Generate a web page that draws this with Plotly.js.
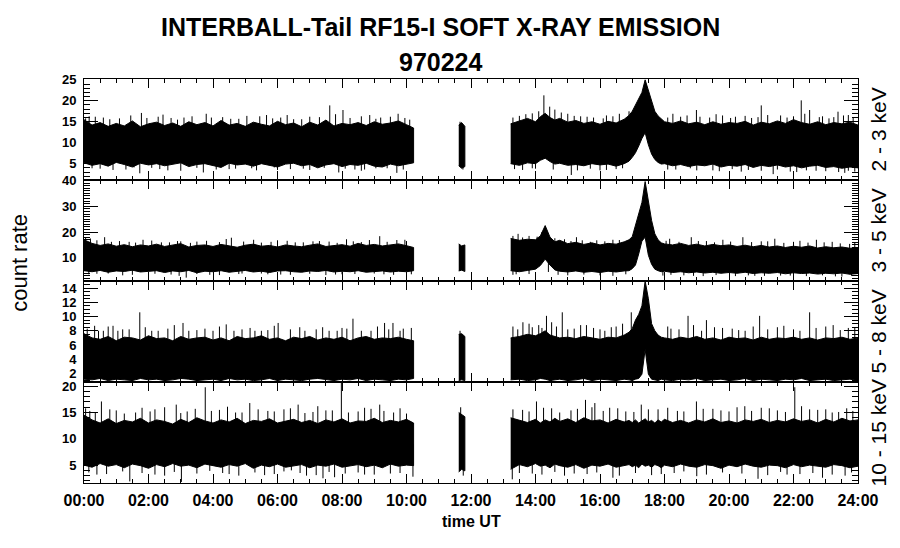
<!DOCTYPE html>
<html><head><meta charset="utf-8">
<script src="https://cdn.plot.ly/plotly-3.0.1.min.js"></script>
<style>body{margin:0;background:#fff}#chart{width:900px;height:548px}</style>
</head><body><div id="chart"></div>
<script>
// ---------- DATA (hours UT, count rate envelopes) ----------
const chartTitle = 'INTERBALL-Tail RF15-I SOFT X-RAY EMISSION';
const chartDate = '970224';
const yTitle = 'count rate';
const xTitle = 'time UT';
const bandLabels = ['2 - 3 keV', '3 - 5 keV', '5 - 8 keV', '10 - 15 keV'];
const xTickVals = [0,2,4,6,8,10,12,14,16,18,20,22,24];
const xTickText = ['00:00','02:00','04:00','06:00','08:00','10:00','12:00','14:00','16:00','18:00','20:00','22:00','24:00'];

// segment times
const tA = [0,0.25,0.5,0.75,1,1.25,1.5,1.75,2,2.25,
  2.5,2.75,3,3.25,3.5,3.75,4,4.25,4.5,4.75,
  5,5.25,5.5,5.75,6,6.25,6.5,6.75,7,7.25,
  7.5,7.75,8,8.25,8.5,8.75,9,9.25,9.5,9.75,
  10,10.22];
const tB = [11.62,11.71,11.81];
const tC = [13.23,13.5,13.75,14.0,14.15,14.3,14.45,14.6,14.75,15.0,
  15.25,15.5,15.75,16.0,16.25,16.5,16.75,16.9,17.0,17.1,
  17.2,17.3,17.4,17.5,17.6,17.7,17.8,17.9,18.0,18.25,
  18.5,18.75,19.0,19.25,19.5,19.75,20.0,20.25,20.5,20.75,
  21.0,21.25,21.5,21.75,22.0,22.25,22.5,22.75,23.0,23.25,
  23.5,23.75,24.0];

// ---- 2 - 3 keV ----
const up1A = [15.5,14.2,14.8,13.9,14.6,14.0,15.2,13.8,14.5,14.9,
  14.1,14.7,13.9,15.0,14.3,14.8,14.0,15.3,14.2,14.6,
  13.9,14.9,14.4,14.0,15.1,14.3,14.7,13.8,14.9,14.2,
  15.4,14.0,14.6,14.3,14.8,14.1,15.0,14.4,14.7,15.2,
  14.3,13.5];
const lo1A = [5.2,4.6,5.0,4.4,5.3,4.8,4.2,5.1,4.7,5.0,
  4.5,4.9,5.2,4.3,4.8,5.0,4.6,4.1,5.1,4.7,
  4.9,4.4,5.0,4.6,4.2,4.9,5.1,4.5,4.8,4.0,
  4.7,5.0,4.3,4.8,4.6,5.1,4.4,4.2,4.9,4.5,
  4.8,5.2];
const up1B = [14.2,14.8,13.9];
const lo1B = [4.5,3.9,4.3];
const up1C = [14.5,15.2,15.8,15.0,16.2,17.0,16.0,15.4,15.8,14.9,
  15.3,14.6,15.0,14.4,15.1,14.7,15.6,16.5,17.5,19.0,
  20.5,22.0,25.0,22.5,19.5,17.5,16.4,15.6,15.0,14.6,
  15.2,14.5,14.9,14.3,15.0,14.4,14.8,14.6,15.1,14.2,
  14.9,14.5,15.2,14.6,15.5,14.8,14.4,15.0,14.3,14.8,
  14.5,14.9,14.2];
const lo1C = [5.0,4.6,5.2,5.0,5.8,6.3,5.5,4.9,5.1,4.6,
  4.8,4.5,5.0,4.7,4.9,4.4,5.0,5.6,6.5,7.6,
  9.2,11.0,12.4,9.5,7.3,6.0,5.3,4.9,5.0,4.5,
  4.8,4.3,4.7,4.5,4.9,4.2,4.6,4.4,4.8,4.1,
  4.6,4.3,4.7,4.2,4.5,4.0,4.4,4.6,4.1,4.3,
  3.9,4.2,4.0];
const spk1T = [0.16,1.78,3.79,5.45,5.66,7.62,8.03,8.86,9.74,0.6,1.1,2.3,2.7,3.1,4.3,4.8,6.1,6.5,7.0,9.2,9.95,
  0.05,0.35,0.8,1.45,1.95,2.45,2.9,3.35,3.95,4.55,5.05,5.85,6.3,6.75,7.3,7.8,8.25,8.6,9.05,9.5,10.1,
  1.73,3.70,7.90,9.70,8.70,0.5,1.3,2.1,2.6,4.5,5.2,6.0,6.8,8.4,9.4,
  0.25,0.9,1.55,2.35,3.0,3.5,4.1,4.7,5.35,5.9,6.4,7.0,7.45,8.1,8.6,9.05,9.9,
  14.26,14.44,15.0,16.6,18.26,18.99,21.0,22.24,22.5,23.38,13.5,13.9,14.8,15.4,15.8,16.2,16.9,18.5,19.4,19.8,20.2,20.7,21.6,22.0,22.8,23.1,23.7,
  13.3,13.7,14.1,14.6,15.2,15.6,16.1,16.4,18.1,18.7,19.1,19.6,20.05,20.5,20.9,21.2,21.8,22.35,22.9,23.25,23.55,23.85,
  15.11,20.38,21.37,23.59,13.6,14.0,16.0,16.5,18.1,18.8,19.5,22.1,22.7,23.9,
  13.35,13.9,14.55,15.3,15.7,16.2,16.7,18.35,19.0,19.7,20.1,20.6,21.0,21.5,21.9,22.4,23.0,23.4,23.7,
  11.66,11.75];
const spk1V = [16.3,17.1,16.9,16.3,16.6,18.9,17.8,16.6,16.9,16.0,15.8,16.2,15.9,16.0,16.1,15.7,16.0,15.6,16.2,16.0,15.9,
  15.8,16.2,15.6,16.5,15.9,16.7,15.5,16.3,16.0,15.7,16.4,15.8,16.6,15.6,16.1,16.8,15.9,16.3,15.7,16.2,15.5,
  2.7,2.9,2.9,2.8,3.6,3.8,3.6,4.0,3.4,3.7,3.9,3.5,3.8,3.6,3.9,
  3.9,3.5,4.1,3.7,3.3,4.0,3.6,3.8,3.4,4.1,3.7,3.5,4.0,3.8,3.3,3.9,3.6,
  21.3,18.6,16.9,16.9,16.9,17.8,18.9,20.1,17.8,17.4,16.4,17.0,17.2,16.3,16.0,16.5,17.5,16.2,16.0,16.5,16.2,15.9,16.5,16.3,16.1,15.8,16.6,
  16.0,16.8,17.5,17.9,16.4,16.2,15.8,16.3,16.0,16.5,16.2,16.8,15.9,16.4,16.1,16.6,16.0,16.9,16.3,16.1,16.5,15.9,
  2.3,3.1,2.5,2.8,3.5,3.8,3.4,3.7,3.6,3.9,3.4,3.0,3.3,3.1,
  3.7,3.9,3.6,3.4,3.8,3.5,3.9,3.6,3.4,3.2,3.7,3.5,3.3,3.6,3.1,3.4,3.2,3.0,3.3,
  15.0,3.6];

// ---- 3 - 5 keV ----
const up2A = [17.0,15.6,14.8,15.4,14.5,15.1,14.3,15.0,14.6,15.3,
  14.4,14.9,15.5,14.2,14.8,15.0,14.4,15.2,14.6,14.1,
  14.9,15.3,14.5,14.8,14.2,15.0,14.6,14.3,14.9,15.4,
  14.4,14.7,15.1,14.5,15.6,14.8,15.2,14.6,15.0,15.4,
  14.7,14.0];
const lo2A = [5.0,4.6,5.1,4.4,4.9,4.7,5.2,4.5,4.8,5.0,
  4.3,4.9,4.6,5.1,4.2,4.8,4.6,5.0,4.4,4.7,
  5.1,4.5,4.8,4.3,4.9,5.0,4.6,4.4,4.9,4.7,
  5.1,4.5,4.8,4.6,5.0,4.4,4.7,4.9,4.5,4.8,
  4.6,5.0];
const up2B = [15.4,14.6,15.0];
const lo2B = [4.9,5.2,4.7];
const up2C = [17.5,16.8,17.2,17.0,18.5,22.5,18.0,16.2,16.8,15.5,
  16.0,15.2,15.8,15.0,15.6,15.3,16.2,17.0,18.2,22.5,
  27.5,31.5,39.6,32.0,24.5,19.3,17.0,15.8,15.4,15.0,
  15.6,14.8,15.3,14.6,15.2,14.7,15.0,14.4,14.9,14.3,
  14.8,14.2,14.6,14.0,14.5,14.1,14.6,13.8,14.3,13.9,
  14.2,13.7,14.0];
const lo2C = [5.0,4.6,5.1,5.6,7.0,9.5,7.2,5.3,4.8,4.5,
  4.9,4.4,4.7,4.3,4.8,4.5,4.9,5.0,5.8,7.2,
  11.5,16.5,18.0,11.0,7.5,5.6,5.0,4.6,4.8,4.3,
  4.6,4.2,4.5,4.1,4.4,4.0,4.3,4.0,4.4,3.9,
  4.2,4.0,4.3,3.8,4.2,3.9,4.1,3.7,4.0,3.8,
  4.1,3.6,3.9];
const spk2T = [0.64,1.83,2.9,4.41,4.57,5.26,6.3,7.1,8.14,9.17,9.7,0.2,1.4,2.4,3.5,5.8,6.8,7.6,8.6,10.0,
  0.05,0.4,0.85,1.1,1.6,2.1,2.65,3.0,3.3,3.8,4.2,4.95,5.5,6.0,6.55,7.3,7.85,8.35,8.85,9.4,9.95,
  1.2,2.95,3.17,3.9,6.1,7.5,9.3,0.4,4.8,5.5,8.0,
  0.15,0.75,1.5,2.2,2.7,3.5,4.2,4.9,5.7,6.4,7.0,7.8,8.4,9.0,9.6,10.15,
  13.46,15.27,18.16,18.83,19.81,20.43,21.42,22.71,23.74,13.8,14.9,15.9,16.4,19.3,21.0,22.2,23.2,
  13.3,13.6,14.05,14.2,14.6,15.1,15.45,15.7,16.15,16.6,18.05,18.45,19.05,19.55,20.05,20.7,21.2,21.7,22.0,22.45,22.95,23.45,23.9,
  15.0,16.4,17.95,19.2,20.8,22.0,23.5,13.4,14.7,18.6,21.6,
  13.3,13.8,14.4,15.5,16.0,16.8,18.2,18.9,19.6,20.2,20.6,21.1,21.9,22.4,22.9,23.3,23.8];
const spk2V = [18.0,17.0,16.5,17.3,17.8,17.0,16.6,16.4,17.2,18.4,16.9,17.5,16.2,16.0,16.3,16.2,16.0,16.3,16.1,16.5,
  17.8,16.8,16.2,16.5,15.9,16.7,16.0,16.4,15.8,16.6,16.1,16.3,15.9,16.8,16.0,16.5,15.8,16.4,16.9,16.2,17.0,
  3.2,3.0,2.3,3.4,3.5,3.3,3.6,3.8,3.7,3.9,3.6,
  3.6,3.9,3.4,3.8,3.5,3.7,3.3,3.9,3.6,3.4,3.8,3.5,3.7,3.9,3.4,3.6,
  19.3,18.0,17.4,18.0,17.0,18.0,17.4,17.0,15.4,18.5,17.2,16.8,17.0,16.5,16.4,16.6,16.2,
  18.5,17.9,18.2,20.0,17.6,16.5,16.8,16.2,16.4,16.9,16.6,16.2,16.5,16.0,16.3,16.1,16.4,15.8,16.2,15.9,16.0,15.6,15.8,
  3.2,3.0,3.1,2.9,3.0,2.8,2.7,3.6,3.4,3.2,3.1,
  3.4,3.7,4.5,3.5,3.2,3.6,3.4,3.0,3.3,2.9,3.2,3.0,3.1,2.9,3.2,2.8,3.0];

// ---- 5 - 8 keV ----
const up3A = [7.6,7.0,6.8,7.2,6.6,7.1,7.0,6.7,7.3,6.9,
  7.0,6.6,7.2,6.8,7.0,7.1,6.7,7.0,6.6,7.2,
  6.9,7.0,7.3,6.8,7.0,6.6,7.1,6.9,7.2,6.7,
  7.0,6.8,7.1,6.6,7.0,7.2,6.8,7.0,6.9,7.1,
  6.8,6.6];
const lo3A = [1.2,1.1,1.3,1.0,1.2,1.1,1.0,1.3,1.1,1.2,
  1.0,1.1,1.3,1.2,1.0,1.1,1.2,1.0,1.3,1.1,
  1.2,1.0,1.1,1.3,1.0,1.2,1.1,1.0,1.2,1.3,
  1.1,1.0,1.2,1.1,1.3,1.0,1.2,1.1,1.0,1.2,
  1.1,1.3];
const up3B = [7.5,7.6,7.2];
const lo3B = [1.0,1.1,1.0];
const up3C = [7.0,7.2,7.5,7.3,7.6,8.0,7.4,7.2,7.0,7.1,
  6.9,7.2,7.0,6.8,7.1,7.0,7.4,7.8,8.3,9.5,
  10.3,11.5,15.0,12.5,9.0,8.0,7.4,7.1,7.0,6.8,
  7.1,6.9,7.2,6.8,7.0,6.7,7.1,6.9,7.0,6.7,
  7.1,6.8,7.0,6.9,7.1,6.8,7.0,6.7,7.0,6.9,
  7.1,6.8,7.0];
const lo3C = [1.1,1.2,1.0,1.1,1.3,1.2,1.0,1.1,1.2,1.0,
  1.1,1.3,1.0,1.2,1.1,1.0,1.2,1.1,1.0,1.2,
  1.3,1.9,5.4,1.9,1.2,1.1,1.0,1.2,1.1,1.0,
  1.2,1.1,1.3,1.0,1.1,1.2,1.0,1.1,1.3,1.0,
  1.2,1.1,1.0,1.2,1.1,1.3,1.0,1.1,1.2,1.0,
  1.1,1.2,1.0];
const spk3T = [0.33,1.73,3.07,6.02,6.69,8.34,9.32,0.9,4.41,9.58,0.6,1.2,2.1,2.6,3.5,4.0,4.9,5.3,5.7,7.2,7.6,8.0,8.9,9.9,
  0.1,0.45,0.75,1.05,1.4,1.9,2.3,2.8,3.25,3.75,4.2,4.65,5.15,5.5,5.9,6.4,6.85,7.4,7.85,8.15,8.6,9.1,9.45,9.8,10.15,
  10.1,
  13.61,14.34,14.83,16.97,18.73,19.3,20.95,22.5,23.23,15.58,13.9,14.1,15.2,16.0,16.5,18.2,19.8,20.3,21.5,22.0,23.7,
  13.3,13.45,13.8,14.2,14.5,14.65,15.0,15.4,15.8,16.15,16.35,16.7,18.1,18.45,18.9,19.15,19.55,20.1,20.5,20.75,21.2,21.7,22.2,22.7,23.0,23.45,23.9,
  11.66];
const spk3V = [8.7,10.6,9.1,9.1,8.5,9.7,9.1,8.7,8.9,9.1,8.0,8.2,8.0,8.3,8.1,8.0,8.2,8.0,8.1,8.2,8.0,8.4,8.0,8.3,
  8.3,8.0,8.6,8.0,8.2,8.5,8.0,8.8,8.0,8.3,8.6,8.0,8.4,8.0,8.7,8.2,8.0,8.5,8.0,8.3,8.0,8.6,8.2,8.0,8.4,
  4.0,
  9.2,10.1,10.6,10.6,10.1,9.5,10.1,10.6,8.8,8.8,8.5,8.8,8.3,8.2,8.6,8.3,8.4,8.1,8.5,8.2,8.4,
  8.6,8.2,9.0,8.4,9.2,8.6,8.2,8.8,8.4,8.0,8.5,9.0,8.6,8.2,8.8,8.0,8.5,8.3,8.0,8.6,8.2,8.7,8.0,8.4,8.6,8.1,8.5,
  8.0];

// ---- 10 - 15 keV ----
const up4A = [14.5,13.6,13.0,13.8,12.9,13.5,13.2,13.9,13.0,13.6,
  13.3,12.8,13.7,13.1,14.0,13.4,13.0,13.6,13.2,13.9,
  12.9,13.5,13.3,13.8,13.0,13.4,13.7,13.1,13.5,12.9,
  13.6,13.2,13.8,13.0,13.4,13.3,13.9,13.1,13.5,13.2,
  13.7,13.0];
const lo4A = [5.0,4.6,5.3,4.8,5.1,4.5,5.2,4.9,4.4,5.1,
  4.7,5.3,4.8,5.0,4.5,5.2,4.9,4.6,5.1,4.8,
  5.3,4.4,5.0,4.7,5.2,4.6,4.9,5.1,4.5,5.0,
  4.8,5.2,4.6,4.9,5.1,4.7,5.0,4.5,5.2,4.8,
  5.0,4.9];
const up4B = [15.0,14.6,14.2];
const lo4B = [3.7,4.2,3.9];
const up4C = [14.0,13.5,13.1,13.7,13.0,13.6,13.2,13.9,13.3,13.8,
  13.1,14.0,13.4,13.6,13.0,13.7,13.2,13.5,13.1,13.6,
  13.0,13.4,13.8,13.2,13.5,13.0,13.6,13.2,13.7,13.1,
  13.5,13.0,13.6,13.2,13.8,13.1,13.4,13.0,13.6,13.3,
  13.7,13.1,13.5,13.2,13.8,13.3,13.6,13.0,13.7,13.2,
  13.9,13.4,13.6];
const lo4C = [4.2,5.1,4.7,5.3,4.8,5.0,4.5,5.2,4.9,4.6,
  5.1,4.4,5.0,4.8,5.2,4.6,4.9,5.1,4.7,5.0,
  4.5,5.2,4.8,5.0,4.6,5.1,4.9,4.5,5.0,4.7,
  5.2,4.8,4.6,5.1,4.9,4.4,5.0,4.7,5.2,4.8,
  4.6,5.0,4.9,4.5,5.1,4.7,5.0,4.8,4.6,5.1,
  4.9,4.5,4.8];
const spk4T = [0.18,0.54,2.86,3.76,5.14,6.64,7.98,9.17,10.0,1.0,1.6,2.2,3.2,4.2,4.7,5.7,6.2,7.1,7.5,8.5,8.9,9.6,
  0.05,0.35,0.8,1.25,1.8,2.05,2.5,3.0,3.45,3.95,4.45,4.9,5.4,5.9,6.4,6.85,7.25,7.7,8.2,8.7,9.3,9.8,
  1.42,3.02,6.43,7.41,7.77,10.2,0.4,2.5,4.5,5.6,6.9,8.7,9.5,
  0.15,0.7,1.2,1.8,2.2,2.8,3.5,3.9,4.3,4.8,5.3,5.9,6.2,6.7,7.2,7.6,8.1,8.5,9.0,9.8,
  14.03,15.55,15.84,17.28,18.99,20.49,22.04,22.5,23.84,13.6,14.5,15.1,16.3,16.8,17.8,18.4,19.5,20.0,21.0,21.5,23.0,23.4,
  13.3,13.8,14.25,14.75,15.3,15.75,16.1,16.55,17.05,17.5,18.1,18.6,19.2,19.75,20.25,20.7,21.25,21.75,22.25,22.75,23.2,23.65,
  13.28,14.9,16.4,19.0,20.9,22.9,13.9,15.6,17.6,18.3,21.8,23.6,
  13.5,14.2,14.6,15.2,15.9,16.6,17.1,17.9,18.6,19.3,19.8,20.4,21.2,21.6,22.2,22.6,23.2,23.8,
  11.68,11.76];
const spk4V = [15.3,17.1,16.5,19.8,16.8,16.5,21.0,16.5,14.8,15.4,15.0,15.6,15.2,15.5,15.0,15.3,15.6,15.1,15.4,15.2,15.7,15.0,
  15.8,15.0,15.6,14.8,15.9,15.2,16.0,14.9,15.7,15.3,16.1,15.0,15.6,15.2,15.8,14.9,16.2,15.4,15.0,15.9,15.3,15.8,
  1.9,1.8,4.0,2.5,2.7,2.8,3.2,3.0,3.3,3.1,3.0,3.2,3.4,
  3.6,3.3,3.8,3.5,3.2,3.7,3.4,3.9,3.5,3.0,3.6,3.3,3.8,3.5,3.1,3.7,3.4,3.6,3.2,3.5,
  17.1,17.4,16.8,16.5,17.1,16.2,19.8,15.6,15.3,15.5,15.8,15.4,15.9,15.2,15.6,15.3,15.7,15.2,15.9,15.4,15.6,15.1,
  15.6,15.2,15.9,15.0,15.7,16.0,15.3,15.8,15.1,15.6,15.9,15.2,15.7,15.4,16.0,15.3,15.8,15.1,16.2,15.5,15.0,15.8,
  2.3,3.0,2.6,2.9,2.4,2.6,3.4,3.3,3.1,3.5,3.2,3.0,
  3.5,3.2,3.7,3.4,3.6,3.0,3.5,3.3,3.8,3.2,3.6,3.4,3.1,3.7,3.3,3.5,3.2,3.6,
  16.0,3.0];

// ---------- BUILD ----------
const panels = [
  {ups:[up1A,up1B,up1C], los:[lo1A,lo1B,lo1C], sT:spk1T, sV:spk1V, xa:'x',  ya:'y'},
  {ups:[up2A,up2B,up2C], los:[lo2A,lo2B,lo2C], sT:spk2T, sV:spk2V, xa:'x2', ya:'y2'},
  {ups:[up3A,up3B,up3C], los:[lo3A,lo3B,lo3C], sT:spk3T, sV:spk3V, xa:'x3', ya:'y3'},
  {ups:[up4A,up4B,up4C], los:[lo4A,lo4B,lo4C], sT:spk4T, sV:spk4V, xa:'x4', ya:'y4'}
];
const times = [tA, tB, tC];
const traces = [];
panels.forEach(p => {
  times.forEach((t, s) => {
    const n = Math.min(t.length, p.ups[s].length, p.los[s].length);
    const tt = t.slice(0, n), u = p.ups[s].slice(0, n), l = p.los[s].slice(0, n);
    traces.push({type:'scatter', mode:'lines', x: tt.concat(tt.slice().reverse()),
      y: u.concat(l.slice().reverse()), fill:'toself', fillcolor:'#000',
      line:{color:'#000', width:1}, xaxis:p.xa, yaxis:p.ya, hoverinfo:'skip'});
  });
  // spikes: vertical strokes from the band middle to the value
  const sx = [], sy = [];
  const n = Math.min(p.sT.length, p.sV.length);
  for (let i = 0; i < n; i++) {
    const t = p.sT[i];
    let best = null, bd = 1e9;
    times.forEach((tt, s) => tt.forEach((v, k) => {
      const d = Math.abs(v - t);
      if (d < bd) { bd = d; best = (p.ups[s][k] + p.los[s][k]) / 2; }
    }));
    sx.push(t, t, null); sy.push(best, p.sV[i], null);
  }
  traces.push({type:'scatter', mode:'lines', x:sx, y:sy, line:{color:'#000', width:1},
    xaxis:p.xa, yaxis:p.ya, hoverinfo:'skip', connectgaps:false});
});

const FONT = 'Liberation Sans, Arial, Helvetica, sans-serif';
const minorX = []; for (let h = 0; h <= 24; h += 0.5) minorX.push(h);
function xAxis(anchor, labels) {
  return {range:[0,24], anchor:anchor, tickmode:'array', tickvals:xTickVals, ticktext:xTickText,
    showticklabels:labels, ticks:'inside', ticklen:9, tickwidth:1, tickcolor:'#000',
    minor:{tickmode:'array', tickvals:minorX, ticks:'inside', ticklen:4, tickcolor:'#000', tickwidth:1},
    showline:true, linecolor:'#000', linewidth:1, mirror:'ticks', showgrid:false, zeroline:false,
    tickfont:{family:FONT, size:16, color:'#000', weight:'bold'}, ticklabelstandoff:3, fixedrange:true};
}
function yAxis(dom, range, dtick, mdt) {
  return {domain:dom, range:range, tickmode:'linear', tick0:0, dtick:dtick,
    ticks:'inside', ticklen:14, tickwidth:1, tickcolor:'#000',
    minor:{dtick:mdt, tick0:0, ticks:'inside', ticklen:6, tickcolor:'#000', tickwidth:1},
    showline:true, linecolor:'#000', linewidth:1, mirror:'ticks', showgrid:false, zeroline:false,
    tickfont:{family:FONT, size:13, color:'#000', weight:'bold'}, ticklabelstandoff:4, fixedrange:true};
}
const rightAnn = bandLabels.map((txt, i) => ({text:txt, xref:'paper', yref:'paper', x:1.027,
  y:[0.875,0.625,0.375,0.125][i], textangle:-90, showarrow:false, xanchor:'center', yanchor:'middle',
  font:{family:FONT, size:21, color:'#000'}}));

const layout = {
  width:900, height:548, margin:{l:84, r:42, t:79, b:65},
  paper_bgcolor:'#fff', plot_bgcolor:'#fff', showlegend:false,
  xaxis:xAxis('y', false), xaxis2:xAxis('y2', false), xaxis3:xAxis('y3', false), xaxis4:xAxis('y4', true),
  yaxis:yAxis([0.75,1], [1.1,25.2], 5, 1),
  yaxis2:yAxis([0.5,0.75], [1.0,40.2], 10, 1),
  yaxis3:yAxis([0.25,0.5], [0.8,15.0], 2, 0.5),
  yaxis4:yAxis([0,0.25], [1.6,20.8], 5, 1),
  annotations:[
    {text:chartTitle, xref:'paper', yref:'paper', x:0.461, y:1.1287, showarrow:false, xanchor:'center', yanchor:'middle',
      font:{family:FONT, size:25, color:'#000', weight:'bold'}},
    {text:chartDate, xref:'paper', yref:'paper', x:0.461, y:1.042, showarrow:false, xanchor:'center', yanchor:'middle',
      font:{family:FONT, size:25, color:'#000', weight:'bold'}},
    {text:xTitle, xref:'paper', yref:'paper', x:0.5, y:-0.0965, showarrow:false, xanchor:'center', yanchor:'middle',
      font:{family:FONT, size:16, color:'#000', weight:'bold'}},
    {text:yTitle, xref:'paper', yref:'paper', x:-0.0827, y:0.545, textangle:-90, showarrow:false, xanchor:'center', yanchor:'middle',
      font:{family:FONT, size:22, color:'#000'}}
  ].concat(rightAnn)
};
Plotly.newPlot('chart', traces, layout, {displayModeBar:false, staticPlot:true});
</script>
</body></html>
